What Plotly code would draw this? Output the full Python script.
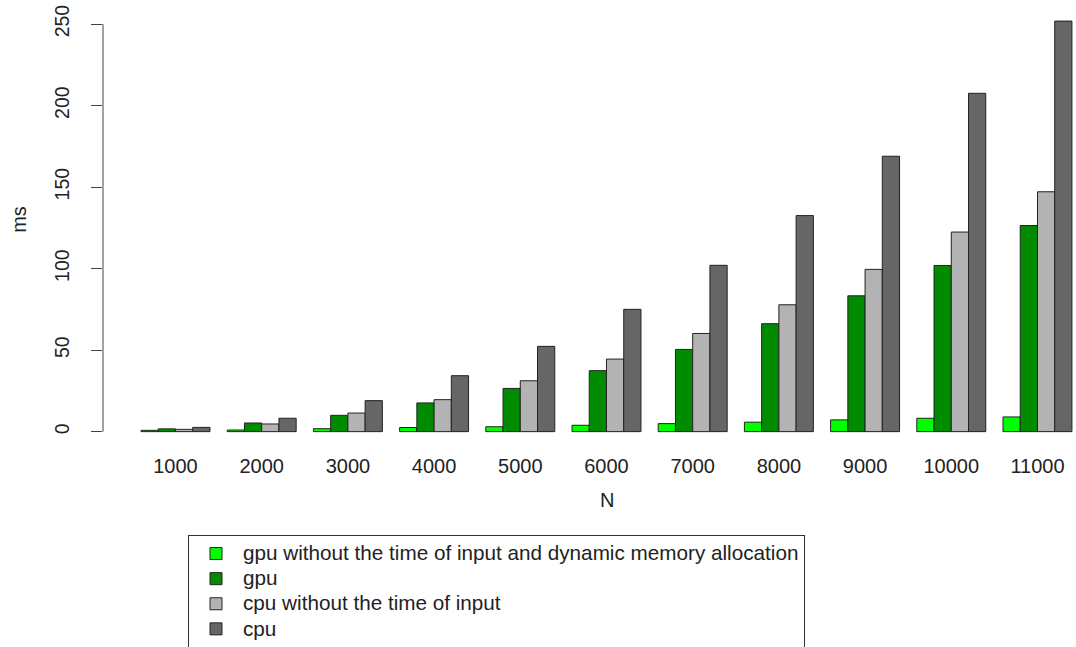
import plotly.graph_objects as go

categories = ["1000", "2000", "3000", "4000", "5000", "6000", "7000", "8000", "9000", "10000", "11000"]
gpu_no_input = [0.8, 1.0, 1.8, 2.5, 3.0, 3.9, 4.9, 5.8, 7.2, 8.2, 9.0]
gpu = [1.7, 5.3, 10.0, 17.6, 26.5, 37.4, 50.4, 66.2, 83.3, 101.9, 126.4]
cpu_no_input = [1.4, 4.7, 11.4, 19.6, 31.2, 44.5, 60.2, 77.8, 99.5, 122.4, 147.1]
cpu = [2.6, 8.2, 19.0, 34.3, 52.3, 75.0, 102.0, 132.5, 168.9, 207.5, 251.8]

series = [
    ("gpu without the time of input and dynamic memory allocation", gpu_no_input, "#00FF00"),
    ("gpu", gpu, "#008B00"),
    ("cpu without the time of input", cpu_no_input, "#B3B3B3"),
    ("cpu", cpu, "#666666"),
]
y_ticks = [0, 50, 100, 150, 200, 250]

FONT = "Liberation Sans, Arial, Helvetica, sans-serif"
TXT = "#222222"

# plot area in page pixels
L, R, T, B = 103, 1076, 6, 448.4
PW, PH = R - L, B - T


def px(x):
    return (x - L) / PW


def py(y):
    return (B - y) / PH


fig = go.Figure()
for name, vals, color in series:
    fig.add_trace(go.Bar(
        x=categories, y=vals,
        name='<span style="font-size:20.7px">' + name + '</span>',
        marker=dict(color=color, line=dict(color="#222222", width=1)),
    ))

fig.update_layout(
    width=1076, height=647,
    barmode="group", bargap=0.2, bargroupgap=0,
    plot_bgcolor="white", paper_bgcolor="white",
    font=dict(family=FONT, size=20, color=TXT),
    margin=dict(l=L, r=1076 - R, t=T, b=647 - B, autoexpand=False),
    showlegend=True,
    legend=dict(
        x=px(188), y=py(535.5),
        xanchor="left", yanchor="top",
        bordercolor="#333333", borderwidth=1,
        font=dict(family=FONT, size=17, color=TXT),
        bgcolor="white", tracegroupgap=0, itemwidth=44,
    ),
    shapes=[dict(type="line", xref="paper", yref="y", x0=0, x1=0,
                 y0=y_ticks[0], y1=y_ticks[-1],
                 line=dict(color="#444444", width=1))],
    annotations=[
        dict(text="N", xref="paper", yref="paper", x=px(607), y=py(500),
             xanchor="center", yanchor="middle",
             showarrow=False, font=dict(size=20, color=TXT)),
        dict(text="ms", xref="paper", yref="paper", x=px(19), y=py(220),
             xanchor="center", yanchor="middle",
             textangle=-90, showarrow=False, font=dict(size=20, color=TXT)),
    ],
)
fig.update_xaxes(
    type="category", range=[-0.841, 10.447],
    showline=False, showgrid=False, zeroline=False, ticks="",
    tickfont=dict(size=20, color=TXT), ticklabelstandoff=4,
)
fig.update_yaxes(
    range=[-10.04, 261.04],
    tickvals=y_ticks, ticktext=[str(v) for v in y_ticks],
    showline=False, showgrid=False, zeroline=False,
    ticks="outside", ticklen=11, tickcolor="#444444", tickwidth=1,
    tickangle=-90, tickfont=dict(size=19.5, color=TXT), ticklabelstandoff=14,
    ticklabeloverflow="allow",
)

fig.write_html("out.html", config={"displayModeBar": False},
               post_script="document.body.style.margin='0';")
